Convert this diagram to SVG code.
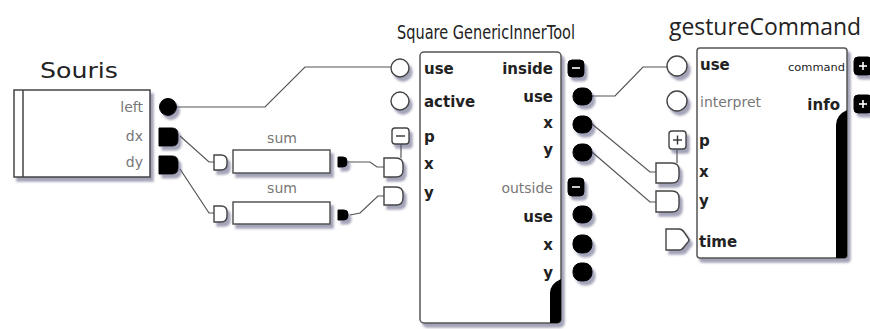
<svg xmlns="http://www.w3.org/2000/svg" width="870" height="329" viewBox="0 0 870 329">
<defs>
<filter id="sh" x="-20%" y="-20%" width="150%" height="150%">
<feDropShadow dx="3" dy="4" stdDeviation="1.2" flood-color="#5a5a80" flood-opacity="0.55"/>
</filter>
<style>
.box{fill:#fff;stroke:#555;stroke-width:1.5}
.pw{fill:#fff;stroke:#444;stroke-width:1.4}
.pb{fill:#000;stroke:#000;stroke-width:1}
.con{fill:none;stroke:#555;stroke-width:1.2}
.t{font-family:"DejaVu Sans","Open Sans",sans-serif;fill:#222}
.lbl{font-family:"DejaVu Sans","Open Sans",sans-serif;font-size:15px;font-weight:bold;fill:#222}
.lt{font-family:"DejaVu Sans","Open Sans",sans-serif;font-size:14px;fill:#777}
.mark{stroke:#fff;stroke-width:1.6}
.markd{stroke:#333;stroke-width:1.4}
</style>
</defs>
<rect width="870" height="329" fill="#fff"/>

<g id="connectors">
<path class="con" d="M176 107 H265 L305 67 H391"/>
<path class="con" d="M180 136 L209 162 H214"/>
<path class="con" d="M180 169 L209 213 H214"/>
<path class="con" d="M348 162 H370 L377 167 H384"/>
<path class="con" d="M350 215 L360 213 L378 196 H384"/>
<path class="con" d="M401 144 V158"/>
<path class="con" d="M592 96 H615 L643 67 H667"/>
<path class="con" d="M592 124 L650 172 H656"/>
<path class="con" d="M592 152 L650 202 H656"/>
<path class="con" d="M677 150 V163"/>
</g>

<g id="souris">
<text class="t" x="40" y="78" font-size="22" textLength="78" lengthAdjust="spacingAndGlyphs">Souris</text>
<g filter="url(#sh)">
<rect class="box" x="14" y="90" width="136" height="87" style="stroke:#444"/>
</g>
<line x1="23" y1="90" x2="23" y2="177" stroke="#444" stroke-width="1.5"/>
<text class="lt" x="143" y="112" text-anchor="end">left</text>
<text class="lt" x="143" y="141" text-anchor="end">dx</text>
<text class="lt" x="143" y="167" text-anchor="end">dy</text>
<g filter="url(#sh)">
<circle class="pb" cx="168" cy="107" r="8.5"/>
<path class="pb" d="M159 128 H172 Q178 128 178 134 V140 Q178 146 172 146 H159 Z"/>
<path class="pb" d="M159 156 H172 Q178 156 178 162 V168 Q178 174 172 174 H159 Z"/>
</g>
</g>

<g id="sum1">
<text class="lt" x="282" y="143" text-anchor="middle" font-size="13">sum</text>
<g filter="url(#sh)">
<rect class="box" x="233" y="150" width="97" height="23"/>
<path class="pw" d="M214 155 H221 Q227 155 227 161 V164 Q227 170 221 170 H214 Z"/>
<path class="pb" d="M338 157 H343 Q347 157 347 161 V163 Q347 167 343 167 H338 Z"/>
</g>
</g>

<g id="sum2">
<text class="lt" x="282" y="193" text-anchor="middle" font-size="13">sum</text>
<g filter="url(#sh)">
<rect class="box" x="233" y="202" width="97" height="22"/>
<path class="pw" d="M214 206 H221 Q227 206 227 212 V216 Q227 222 221 222 H214 Z"/>
<path class="pb" d="M338 210 H344 Q348 210 348 214 V216 Q348 220 344 220 H338 Z"/>
</g>
</g>

<g id="generic">
<text class="t" x="486" y="39" font-size="20" text-anchor="middle" textLength="178" lengthAdjust="spacingAndGlyphs">Square GenericInnerTool</text>
<g filter="url(#sh)">
<rect class="box" x="420" y="52" width="141" height="271" rx="4"/>
</g>
<path d="M561 279 V319 Q561 323 557 323 H550 V293 Q550 284 561 279 Z" fill="#000"/>
<text class="lbl" x="424" y="74">use</text>
<text class="lbl" x="424" y="107">active</text>
<text class="lbl" x="424" y="142">p</text>
<text class="lbl" x="424" y="169">x</text>
<text class="lbl" x="424" y="198">y</text>
<text class="lbl" x="553" y="74" text-anchor="end">inside</text>
<text class="lbl" x="553" y="102" text-anchor="end">use</text>
<text class="lbl" x="553" y="128" text-anchor="end">x</text>
<text class="lbl" x="553" y="155" text-anchor="end">y</text>
<text class="lt" x="553" y="193" text-anchor="end" font-size="13" fill="#666">outside</text>
<text class="lbl" x="553" y="222" text-anchor="end">use</text>
<text class="lbl" x="553" y="250" text-anchor="end">x</text>
<text class="lbl" x="553" y="278" text-anchor="end">y</text>
<g filter="url(#sh)">
<circle class="pw" cx="400" cy="68" r="9"/>
<circle class="pw" cx="400" cy="101" r="9"/>
<rect class="pw" x="392" y="128" width="17" height="16" rx="3"/>
<path class="pw" d="M384 158 H396 Q403 158 403 165 V170 Q403 177 396 177 H384 Z"/>
<path class="pw" d="M384 187 H396 Q403 187 403 194 V198 Q403 205 396 205 H384 Z"/>
</g>
<line class="markd" x1="396" y1="136" x2="405" y2="136"/>
<g filter="url(#sh)">
<rect class="pb" x="568" y="60" width="16" height="17" rx="4"/>
<rect class="pb" x="573" y="88" width="19" height="17" rx="8"/>
<rect class="pb" x="573" y="116" width="19" height="17" rx="8"/>
<rect class="pb" x="573" y="144" width="19" height="17" rx="8"/>
<rect class="pb" x="568" y="178" width="16" height="18" rx="4"/>
<rect class="pb" x="573" y="206" width="19" height="17" rx="8"/>
<rect class="pb" x="573" y="235" width="19" height="18" rx="8"/>
<rect class="pb" x="573" y="263" width="19" height="18" rx="8"/>
</g>
<line class="mark" x1="572" y1="68" x2="580" y2="68"/>
<line class="mark" x1="572" y1="187" x2="580" y2="187"/>
</g>

<g id="gestureCommand">
<text x="669" y="35" font-family="'Open Sans',sans-serif" font-size="23" fill="#222" textLength="192" lengthAdjust="spacingAndGlyphs">gestureCommand</text>
<g filter="url(#sh)">
<rect class="box" x="697" y="48" width="150" height="210" rx="3"/>
</g>
<path d="M847 110 V255 Q847 258 844 258 H836 V125 Q836 115 847 110 Z" fill="#000"/>
<text class="lbl" x="700" y="70">use</text>
<text class="lt" x="700" y="107" font-size="14" fill="#555">interpret</text>
<text class="t" x="845" y="71" font-size="11" text-anchor="end" textLength="57" lengthAdjust="spacingAndGlyphs">command</text>
<text class="lbl" x="840" y="110" text-anchor="end" font-weight="normal" font-size="17">info</text>
<text class="lbl" x="699" y="146">p</text>
<text class="lbl" x="699" y="177">x</text>
<text class="lbl" x="699" y="206">y</text>
<text class="lbl" x="699" y="247">time</text>
<g filter="url(#sh)">
<circle class="pw" cx="677" cy="66" r="10"/>
<circle class="pw" cx="677" cy="101" r="10"/>
<rect class="pw" x="669" y="131" width="17" height="18" rx="3"/>
<path class="pw" d="M656 163 H672 Q679 163 679 170 V176 Q679 183 672 183 H656 Z"/>
<path class="pw" d="M656 191 H672 Q679 191 679 198 V205 Q679 212 672 212 H656 Z"/>
<path class="pw" d="M666 229 H679 Q682 229 684 232 L688 238 Q690 240 688 242 L684 247 Q682 250 679 250 H666 Z"/>
<rect class="pb" x="854" y="57" width="18" height="18" rx="4"/>
<rect class="pb" x="854" y="95" width="18" height="18" rx="4"/>
</g>
<line class="markd" x1="673" y1="140" x2="682" y2="140"/>
<line class="markd" x1="677.5" y1="135.5" x2="677.5" y2="144.5"/>
<line class="mark" x1="859" y1="66" x2="867" y2="66"/>
<line class="mark" x1="863" y1="62" x2="863" y2="70"/>
<line class="mark" x1="859" y1="104" x2="867" y2="104"/>
<line class="mark" x1="863" y1="100" x2="863" y2="108"/>
</g>
</svg>
